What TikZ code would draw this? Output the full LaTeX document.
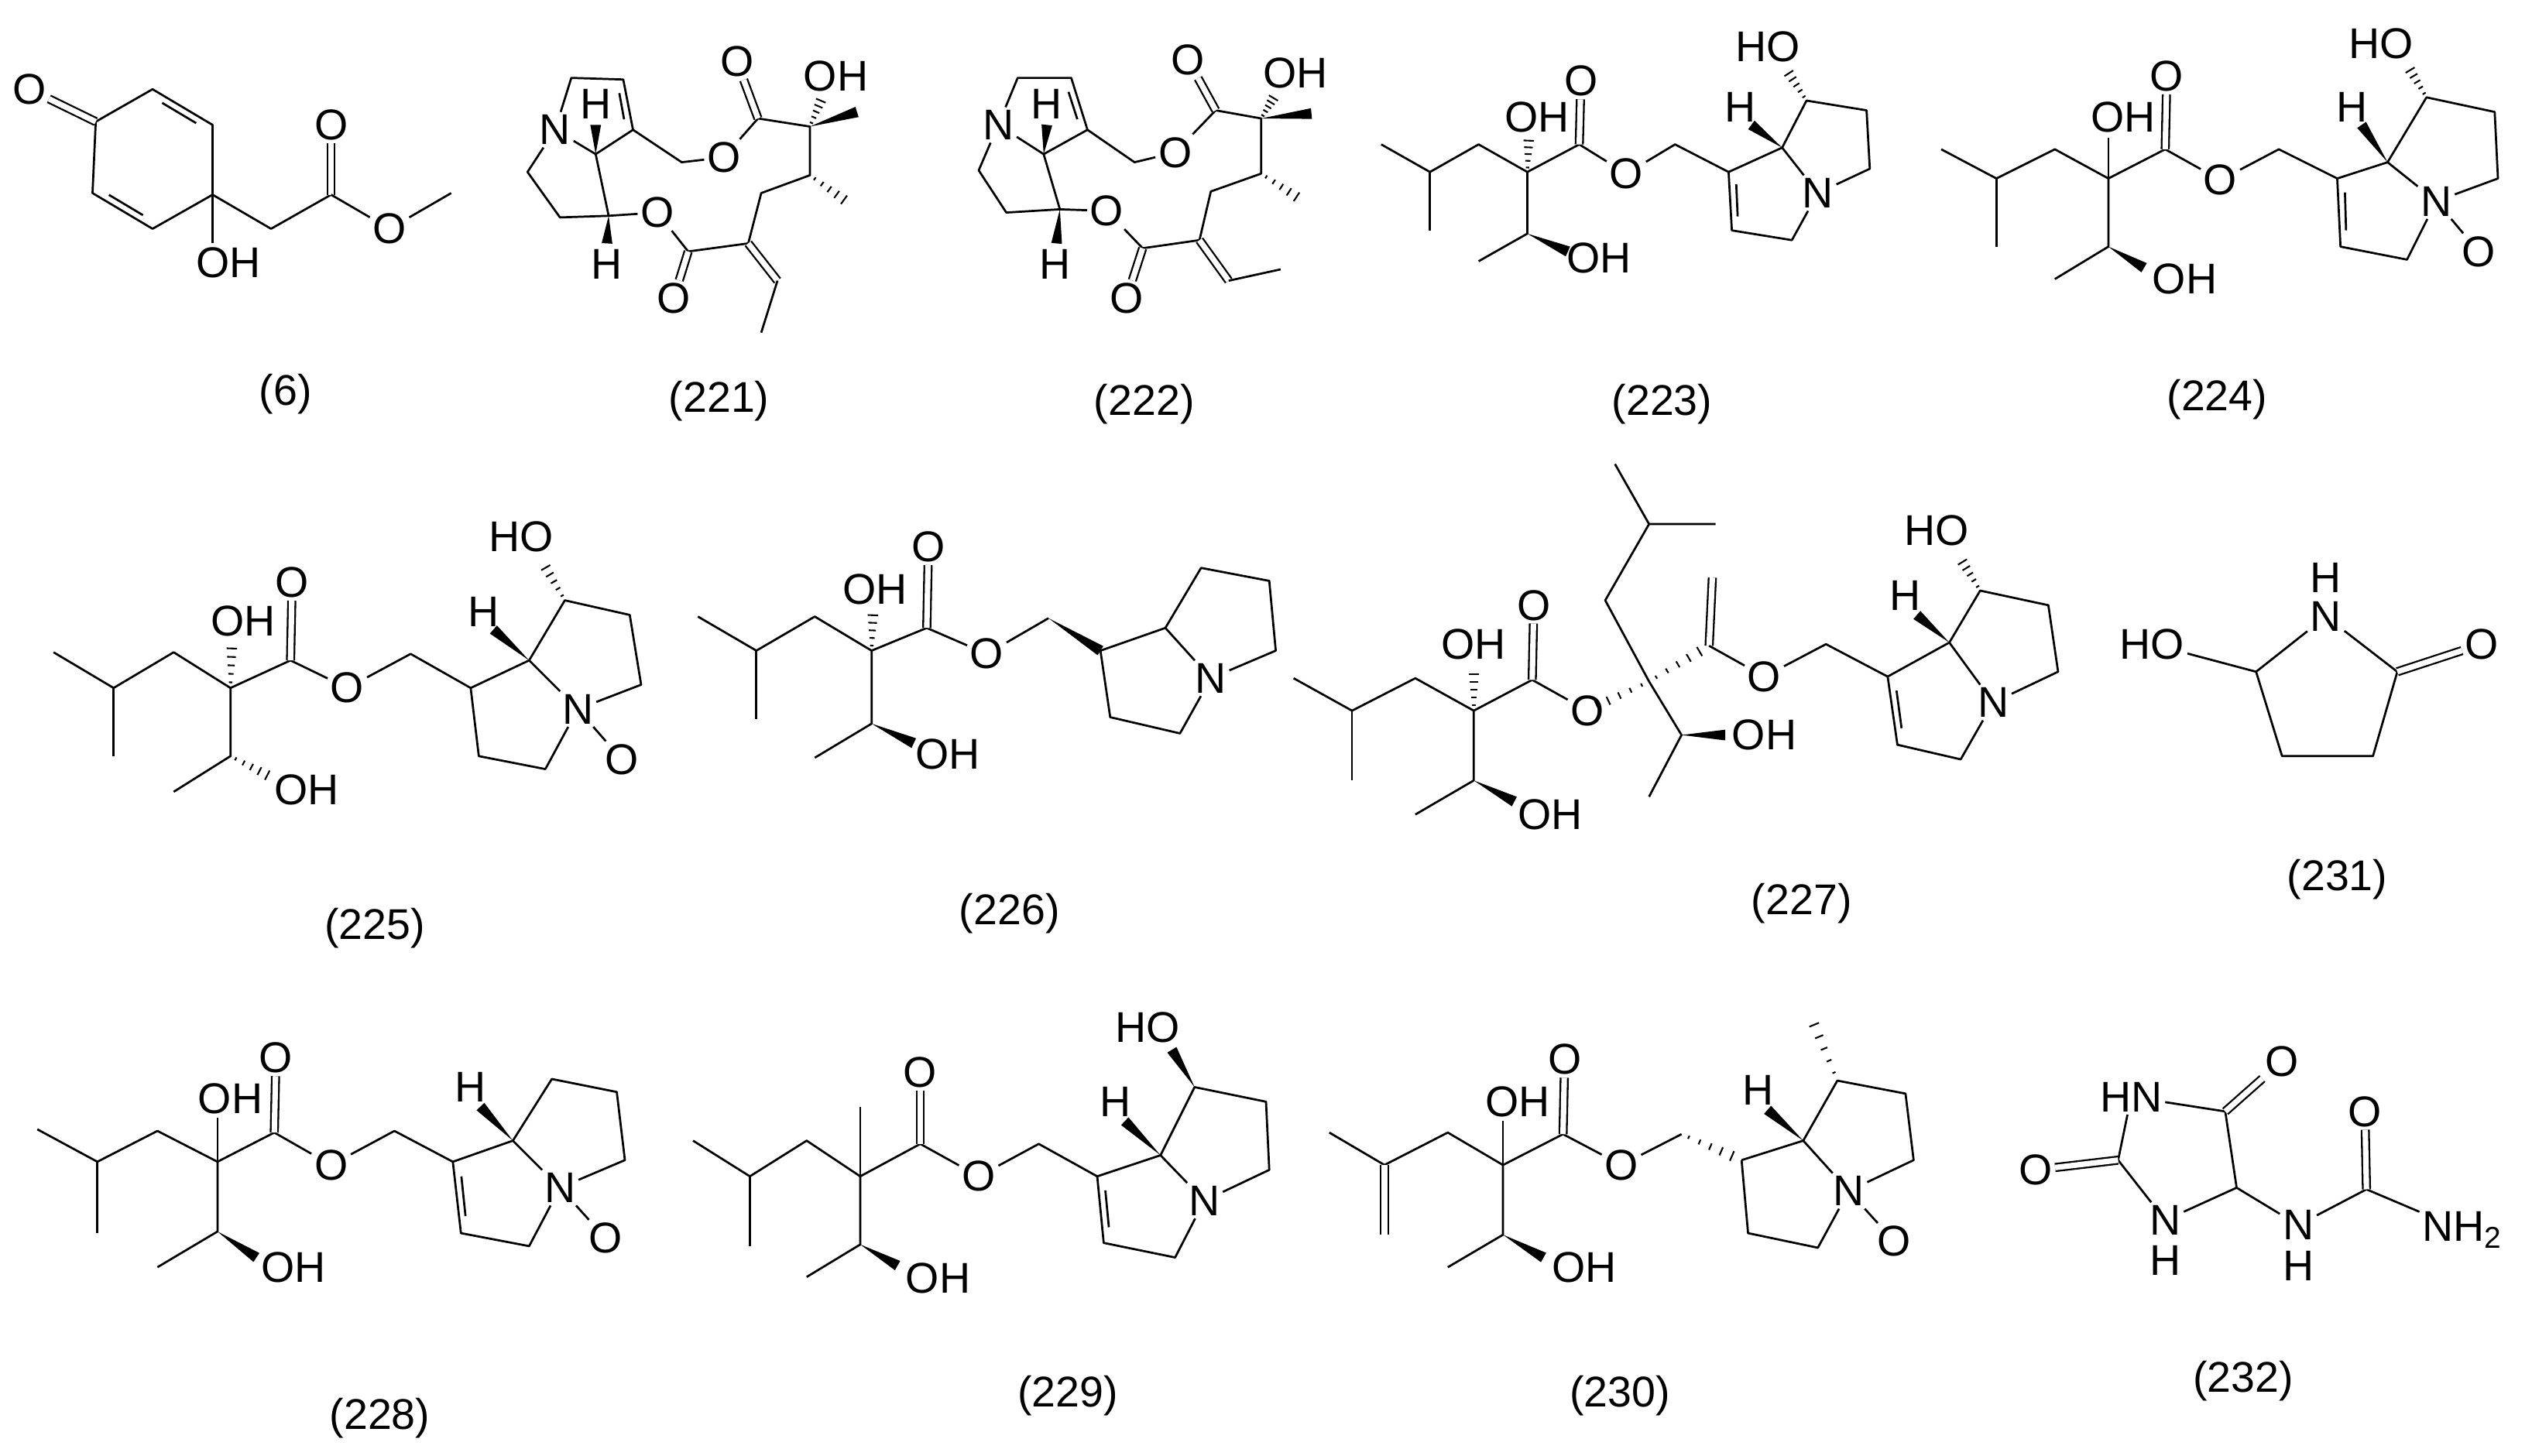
\documentclass[tikz,border=0pt]{standalone}
\usepackage{fontspec}
\setmainfont{Liberation Sans}
\usetikzlibrary{calc}
\newcommand\At[3]{\coordinate (#1) at (#2,#3);}
\newcommand\wedgeb[2]{\fill ($(#1)$) -- ($(#2)!3.3pt!90:(#1)$) -- ($(#2)!3.3pt!-90:(#1)$) -- cycle;}
\newcommand\hashb[2]{\foreach \t in {0.12,0.3,0.48,0.66,0.84,1.0}{\pgfmathsetmacro\w{0.7+\t*3}\draw[line width=1pt] ($(#1)!\t!(#2)!\w pt!90:(#2)$) -- ($(#1)!\t!(#2)!\w pt!-90:(#2)$);}}
\newcommand\rdb[3]{\draw ($($(#1)!0.18!(#2)$)!4.5pt!(#3)$) -- ($($(#1)!0.82!(#2)$)!4.5pt!(#3)$);}
\tikzset{lab/.style={inner sep=1.2pt,font=\fontsize{26.5}{28}\selectfont},
  num/.style={inner sep=0pt,font=\fontsize{26.5}{28}\selectfont},
  dbl/.style={double,double distance=3.4pt,line width=1.1pt}}
\begin{document}
\begin{tikzpicture}[x=1pt,y=-1pt,line width=1.3pt,line join=round]
\useasboundingbox (0,0) rectangle (1560,897);
% ---------- (6)
\At{p1}{59}{75}\At{p2}{94}{55}\At{p3}{131}{77}\At{p4}{131}{120}\At{p5}{94}{141}\At{p6}{57}{119}\At{p7}{167}{141}\At{p8}{204}{120}\At{p9}{278}{119}
\node[lab] (po1) at (18,55){O};\node[lab] (po2) at (204,77){O};\node[lab] (po3) at (240,141){O};\node[lab,anchor=west] (poh) at (119,162){OH};
\draw (p1)--(p2)--(p3)--(p4)--(p5)--(p6)--cycle;
\rdb{p2}{p3}{94,98}\rdb{p6}{p5}{94,98}
\draw[dbl] (p1)--(po1); \draw (p4)--(131,150); \draw (p4)--(p7)--(p8); \draw[dbl] (p8)--(po2); \draw (p8)--(po3)--(p9);
\node[num] at (176,243){(6)};
% ---------- (221)
\At{ra1}{352}{48}\At{ra2}{384}{49}\At{ra3}{390}{80}\At{r7a}{367}{95}\At{rb1}{325}{106}\At{rb2}{345}{134}\At{r7}{375}{133}
\At{rm1}{420}{100}\At{rk1}{467}{73}\At{rk2}{499}{78}\At{rk3}{499}{108}\At{rk4}{469}{119}\At{rk5}{461}{150}\At{rk6}{424}{155}\At{rk7}{479}{173}\At{rk8}{469}{205}
\node[lab] (rN) at (342,80){N};\node[lab] (rH1) at (367,64){H};\node[lab] (rH2) at (374,163){H};
\node[lab] (rO4) at (405,131){O};\node[lab] (rO5) at (446,97){O};\node[lab] (rO6) at (454,38){O};\node[lab] (rO7) at (415,184){O};\node[lab] (rOH) at (515,47){OH};
\draw (rN)--(ra1)--(ra2)--(ra3)--(r7a)--(rN);
\rdb{ra2}{ra3}{366,70}
\draw (rN)--(rb1)--(rb2)--(r7)--(r7a);
\wedgeb{r7a}{367,77}\wedgeb{r7}{374,150}
\draw (r7)--(rO4); \draw (ra3)--(rm1)--(rO5)--(rk1)--(rk2)--(rk3)--(rk4)--(rk5)--(rk6)--(rO4);
\draw[dbl] (rk1)--(rO6); \draw[dbl] (rk6)--(rO7); \draw[dbl] (rk5)--(rk7); \draw (rk7)--(rk8);
\hashb{rk2}{507,59}\wedgeb{rk2}{528,69}\hashb{rk3}{524,126}
\node[num] at (443,247){(221)};
% ---------- (222)
\At{sa1}{627}{48}\At{sa2}{660}{48}\At{sa3}{670}{80}\At{s7a}{643}{95}\At{sb1}{603}{105}\At{sb2}{620}{131}\At{s7}{653}{129}
\At{sm1}{699}{100}\At{sk1}{749}{68}\At{sk2}{777}{73}\At{sk3}{777}{107}\At{sk4}{746}{118}\At{sk5}{739}{148}\At{sk6}{704}{153}\At{sk7}{757}{173}\At{sk8}{789}{166}
\node[lab] (sN) at (615,77){N};\node[lab] (sH1) at (645,64){H};\node[lab] (sH2) at (650,163){H};
\node[lab] (sO4) at (682,130){O};\node[lab] (sO5) at (724,94){O};\node[lab] (sO6) at (732,37){O};\node[lab] (sO7) at (694,184){O};\node[lab] (sOH) at (798,45){OH};
\draw (sN)--(sa1)--(sa2)--(sa3)--(s7a)--(sN);
\rdb{sa2}{sa3}{642,70}
\draw (sN)--(sb1)--(sb2)--(s7)--(s7a);
\wedgeb{s7a}{645,77}\wedgeb{s7}{651,150}
\draw (s7)--(sO4); \draw (sa3)--(sm1)--(sO5)--(sk1)--(sk2)--(sk3)--(sk4)--(sk5)--(sk6)--(sO4);
\draw[dbl] (sk1)--(sO6); \draw[dbl] (sk6)--(sO7); \draw[dbl] (sk5)--(sk7); \draw (sk7)--(sk8);
\hashb{sk2}{786,58}\wedgeb{sk2}{808,70}\hashb{sk3}{803,124}
\node[num] at (705,249){(222)};
% ---------- (223)
\At{ti1}{851}{89}\At{ti2}{881}{106}\At{ti3}{881}{142}\At{ti4}{911}{89}\At{tq}{941}{106}\At{tce}{973}{89}\At{tch}{1032}{89}\At{tc1}{1065}{106}
\At{t7a}{1098}{91}\At{t7}{1113}{62}\At{t6}{1150}{68}\At{t5}{1152}{104}\At{t3}{1104}{148}\At{t2}{1067}{142}\At{tqd}{941}{144}\At{tme}{911}{161}
\node[lab] (tOH1) at (947,72){OH};\node[lab] (tO1) at (974,50){O};\node[lab] (tOe) at (1002,107){O};\node[lab] (tH) at (1072,66){H};
\node[lab] (tHO) at (1089,29){HO};\node[lab] (tN) at (1120,119){N};\node[lab] (tOH2) at (985,159){OH};
\draw (ti1)--(ti2)--(ti4)--(tq)--(tce)--(tOe)--(tch)--(tc1); \draw (ti2)--(ti3); \draw[dbl] (tce)--(tO1);
\draw (tc1)--(t7a)--(t7)--(t6)--(t5)--(tN)--(t7a); \draw (tN)--(t3)--(t2)--(tc1); \rdb{tc1}{t2}{1095,120}
\draw (tq)--(tqd)--(tme); \hashb{tq}{942,83}\wedgeb{t7a}{1079,77}\hashb{t7}{1100,42}\wedgeb{tqd}{966,155}
\node[num] at (1024,249){(223)};
% ---------- (224)
\At{ui1}{1196}{92}\At{ui2}{1230}{110}\At{ui3}{1230}{152}\At{ui4}{1266}{92}\At{uq}{1299}{110}\At{uce}{1334}{92}\At{uch}{1404}{92}\At{uc1}{1440}{110}
\At{u7a}{1471}{100}\At{u7}{1495}{60}\At{u6}{1537}{69}\At{u5}{1539}{110}\At{u3}{1483}{160}\At{u2}{1442}{152}\At{uqd}{1299}{152}\At{ume}{1266}{172}
\node[lab] (uOH1) at (1308,72){OH};\node[lab] (uO1) at (1335,47){O};\node[lab] (uOe) at (1368,111){O};\node[lab] (uH) at (1449,66){H};
\node[lab] (uHO) at (1467,27){HO};\node[lab] (uN) at (1501,124){N};\node[lab] (uON) at (1527,155){O};\node[lab] (uOH2) at (1346,172){OH};
\draw (ui1)--(ui2)--(ui4)--(uq)--(uce)--(uOe)--(uch)--(uc1); \draw (ui2)--(ui3); \draw[dbl] (uce)--(uO1); \draw (uq)--(1299,85);
\draw (uc1)--(u7a)--(u7)--(u6)--(u5)--(uN)--(u7a); \draw (uN)--(u3)--(u2)--(uc1); \draw (uN)--(uON); \rdb{uc1}{u2}{1472,125}
\draw (uq)--(uqd)--(ume); \wedgeb{u7a}{1455,77}\hashb{u7}{1483,40}\wedgeb{uqd}{1321,165}
\node[num] at (1366,246){(224)};
% ---------- (225)
\At{vi1}{33}{402}\At{vi2}{70}{424}\At{vi3}{70}{466}\At{vi4}{107}{402}\At{vq}{142}{424}\At{vce}{179}{407}\At{vch}{253}{403}\At{vc1}{290}{424}
\At{v7a}{326}{407}\At{v7}{348}{370}\At{v6}{388}{379}\At{v5}{395}{422}\At{v3}{336}{474}\At{v2}{295}{466}\At{vqd}{142}{466}\At{vme}{107}{488}
\node[lab] (vOH1) at (150,383){OH};\node[lab] (vO1) at (180,359){O};\node[lab] (vOe) at (214,424){O};\node[lab] (vH) at (298,377){H};
\node[lab] (vHO) at (321,331){HO};\node[lab] (vN) at (356,437){N};\node[lab] (vON) at (383,468){O};\node[lab] (vOH2) at (189,487){OH};
\draw (vi1)--(vi2)--(vi4)--(vq)--(vce)--(vOe)--(vch)--(vc1); \draw (vi2)--(vi3); \draw[dbl] (vce)--(vO1);
\draw (vc1)--(v7a)--(v7)--(v6)--(v5)--(vN)--(v7a); \draw (vN)--(v3)--(v2)--(vc1); \draw (vN)--(vON);
\draw (vq)--(vqd)--(vme); \hashb{vq}{143,395}\wedgeb{v7a}{304,388}\hashb{v7}{334,346}\hashb{vqd}{169,480}
\node[num] at (231,572){(225)};
% ---------- (226)
\At{wi1}{430}{380}\At{wi2}{466}{401}\At{wi3}{466}{443}\At{wi4}{502}{380}\At{wq}{537}{401}\At{wce}{571}{387}\At{wch}{646}{381}\At{wc1}{678}{401}
\At{w7a}{718}{387}\At{w7}{740}{350}\At{w6}{782}{358}\At{w5}{786}{401}\At{w3}{727}{452}\At{w2}{684}{442}\At{wqd}{537}{446}\At{wme}{502}{467}
\node[lab] (wOH1) at (539,363){OH};\node[lab] (wO1) at (572,337){O};\node[lab] (wOe) at (608,403){O};
\node[lab] (wN) at (746,418){N};\node[lab] (wOH2) at (584,465){OH};
\draw (wi1)--(wi2)--(wi4)--(wq)--(wce)--(wOe)--(wch); \draw (wi2)--(wi3); \draw[dbl] (wce)--(wO1);
\wedgeb{wch}{wc1}
\draw (wc1)--(w7a)--(w7)--(w6)--(w5)--(wN)--(w7a); \draw (wN)--(w3)--(w2)--(wc1);
\draw (wq)--(wqd)--(wme); \hashb{wq}{538,375}\wedgeb{wqd}{563,458}
\node[num] at (622,563){(226)};
% ---------- (227)
\At{xi1}{797}{418}\At{xi2}{833}{438}\At{xi3}{833}{481}\At{xi4}{872}{418}\At{xq}{908}{438}\At{xce}{944}{419}\At{xC}{1016}{420}
\At{xu1}{989}{370}\At{xu2}{1016}{323}\At{xu3}{1057}{323}\At{xu4}{995}{286}\At{xv}{1053}{398}\At{xv2}{1055}{356}
\At{xch}{1125}{397}\At{xc1}{1163}{417}\At{x7a}{1201}{396}\At{x7}{1220}{364}\At{x6}{1262}{373}\At{x5}{1268}{414}\At{x3}{1208}{468}\At{x2}{1169}{459}
\At{xCd}{1036}{453}\At{xme2}{1016}{491}\At{xqd}{908}{481}\At{xme}{872}{502}
\node[lab] (xOH1) at (908,397){OH};\node[lab] (xO1) at (945,373){O};\node[lab] (xOe) at (978,438){O};\node[lab] (xO2) at (1087,417){O};
\node[lab] (xH) at (1174,367){H};\node[lab] (xHO) at (1193,327){HO};\node[lab] (xN) at (1228,433){N};
\node[lab] (xOH3) at (1087,453){OH};\node[lab] (xOH2) at (955,502){OH};
\draw (xi1)--(xi2)--(xi4)--(xq)--(xce)--(xOe); \draw (xi2)--(xi3); \draw[dbl] (xce)--(xO1);
\hashb{xC}{xOe}\hashb{xC}{xv}
\draw (xC)--(xu1)--(xu2)--(xu3); \draw (xu2)--(xu4); \draw[dbl] (xv)--(xv2); \draw (xv)--(xO2)--(xch)--(xc1);
\draw (xC)--(xCd)--(xme2); \wedgeb{xCd}{1063,453}
\draw (xc1)--(x7a)--(x7)--(x6)--(x5)--(xN)--(x7a); \draw (xN)--(x3)--(x2)--(xc1); \rdb{xc1}{x2}{1195,432}
\wedgeb{x7a}{1181,379}\hashb{x7}{1207,343}
\draw (xq)--(xqd)--(xme); \hashb{xq}{908,411}\wedgeb{xqd}{933,494}
\node[num] at (1110,557){(227)};
% ---------- (231)
\At{y5}{1390}{414}\At{y2}{1477}{414}\At{y3}{1462}{466}\At{y4}{1406}{466}
\node[lab] (yHO) at (1326,397){HO};\node[lab] (yN) at (1433,380){N};\node[lab] at (1433,356){H};\node[lab] (yO) at (1529,397){O};
\draw (yHO)--(y5)--(yN)--(y2)--(y3)--(y4)--(y5); \draw[dbl] (y2)--(yO);
\node[num] at (1440,542){(231)};
% ---------- (228)
\At{zi1}{23}{696}\At{zi2}{60}{716}\At{zi3}{60}{760}\At{zi4}{97}{697}\At{zq}{134}{716}\At{zce}{169}{698}\At{zch}{243}{697}\At{zc1}{279}{716}
\At{z7a}{316}{703}\At{z7}{340}{665}\At{z6}{380}{673}\At{z5}{385}{715}\At{z3}{326}{768}\At{z2}{284}{760}\At{zqd}{134}{759}\At{zme}{97}{781}
\node[lab] (zOH1) at (142,677){OH};\node[lab] (zO1) at (170,652){O};\node[lab] (zOe) at (204,718){O};\node[lab] (zH) at (290,670){H};
\node[lab] (zN) at (345,732){N};\node[lab] (zON) at (373,763){O};\node[lab] (zOH2) at (181,781){OH};
\draw (zi1)--(zi2)--(zi4)--(zq)--(zce)--(zOe)--(zch)--(zc1); \draw (zi2)--(zi3); \draw[dbl] (zce)--(zO1); \draw (zq)--(134,689);
\draw (zc1)--(z7a)--(z7)--(z6)--(z5)--(zN)--(z7a); \draw (zN)--(z3)--(z2)--(zc1); \draw (zN)--(zON); \rdb{zc1}{z2}{312,732}
\draw (zq)--(zqd)--(zme); \wedgeb{z7a}{296,682}\wedgeb{zqd}{158,775}
\node[num] at (234,874){(228)};
% ---------- (229)
\At{gi1}{427}{703}\At{gi2}{462}{725}\At{gi3}{462}{768}\At{gi4}{497}{703}\At{gq}{530}{725}\At{gme1}{530}{682}\At{gce}{567}{705}\At{gch}{640}{705}\At{gc1}{676}{725}
\At{g7a}{715}{712}\At{g7}{736}{670}\At{g6}{780}{679}\At{g5}{782}{721}\At{g3}{724}{775}\At{g2}{680}{766}\At{gqd}{530}{767}\At{gme}{497}{787}
\node[lab] (gO1) at (567,661){O};\node[lab] (gOe) at (603,725){O};\node[lab] (gH) at (687,679){H};\node[lab] (gHO) at (707,633){HO};
\node[lab] (gN) at (742,740){N};\node[lab] (gOH2) at (578,788){OH};
\draw (gi1)--(gi2)--(gi4)--(gq)--(gce)--(gOe)--(gch)--(gc1); \draw (gi2)--(gi3); \draw (gq)--(gme1); \draw[dbl] (gce)--(gO1);
\draw (gc1)--(g7a)--(g7)--(g6)--(g5)--(gN)--(g7a); \draw (gN)--(g3)--(g2)--(gc1); \rdb{gc1}{g2}{708,742}
\draw (gq)--(gqd)--(gme); \wedgeb{g7a}{693,691}\wedgeb{g7}{722,647}\wedgeb{gqd}{553,780}
\node[num] at (658,860){(229)};
% ---------- (230)
\At{hi1}{819}{698}\At{hi2}{853}{718}\At{hi3}{853}{761}\At{hi4}{892}{698}\At{hq}{926}{718}\At{hce}{963}{699}\At{hch}{1036}{699}\At{hc1}{1073}{715}
\At{h7a}{1111}{703}\At{h7}{1132}{666}\At{hme7}{1115}{625}\At{h6}{1174}{674}\At{h5}{1179}{715}\At{h3}{1120}{769}\At{h2}{1077}{760}\At{hqd}{926}{761}\At{hme}{892}{781}
\node[lab] (hOH1) at (935,679){OH};\node[lab] (hO1) at (964,653){O};\node[lab] (hOe) at (999,718){O};\node[lab] (hH) at (1083,672){H};
\node[lab] (hN) at (1139,734){N};\node[lab] (hON) at (1167,765){O};\node[lab] (hOH2) at (976,781){OH};
\draw (hi1)--(hi2)--(hi4)--(hq)--(hce)--(hOe)--(hch); \draw[dbl] (hi2)--(hi3); \draw[dbl] (hce)--(hO1); \draw (hq)--(926,691);
\hashb{hch}{hc1}
\draw (hc1)--(h7a)--(h7)--(h6)--(h5)--(hN)--(h7a); \draw (hN)--(h3)--(h2)--(hc1); \draw (hN)--(hON);
\hashb{h7}{hme7}\wedgeb{h7a}{1089,684}
\draw (hq)--(hqd)--(hme); \wedgeb{hqd}{951,775}
\node[num] at (998,860){(230)};
% ---------- (232)
\At{kC4}{1371}{685}\At{kC5}{1378}{732}\At{kC2}{1305}{715}\At{kCu}{1458}{733}
\node[lab] (kN1) at (1313,676){HN};\node[lab] (kO4) at (1406,654){O};\node[lab] (kN3) at (1334,752){N};\node[lab] at (1334,777){H};
\node[lab] (kO2) at (1254,721){O};\node[lab] (kN) at (1416,755){N};\node[lab] at (1416,780){H};\node[lab] (kOu) at (1457,685){O};
\node[lab] (kNH2) at (1517,758){NH\textsubscript{2}};
\draw (kN1)--(kC4)--(kC5)--(kN3)--(kC2)--(kN1); \draw[dbl] (kC4)--(kO4); \draw[dbl] (kC2)--(kO2);
\draw (kC5)--(kN)--(kCu)--(kNH2); \draw[dbl] (kCu)--(kOu);
\node[num] at (1382,851){(232)};
\end{tikzpicture}
\end{document}
